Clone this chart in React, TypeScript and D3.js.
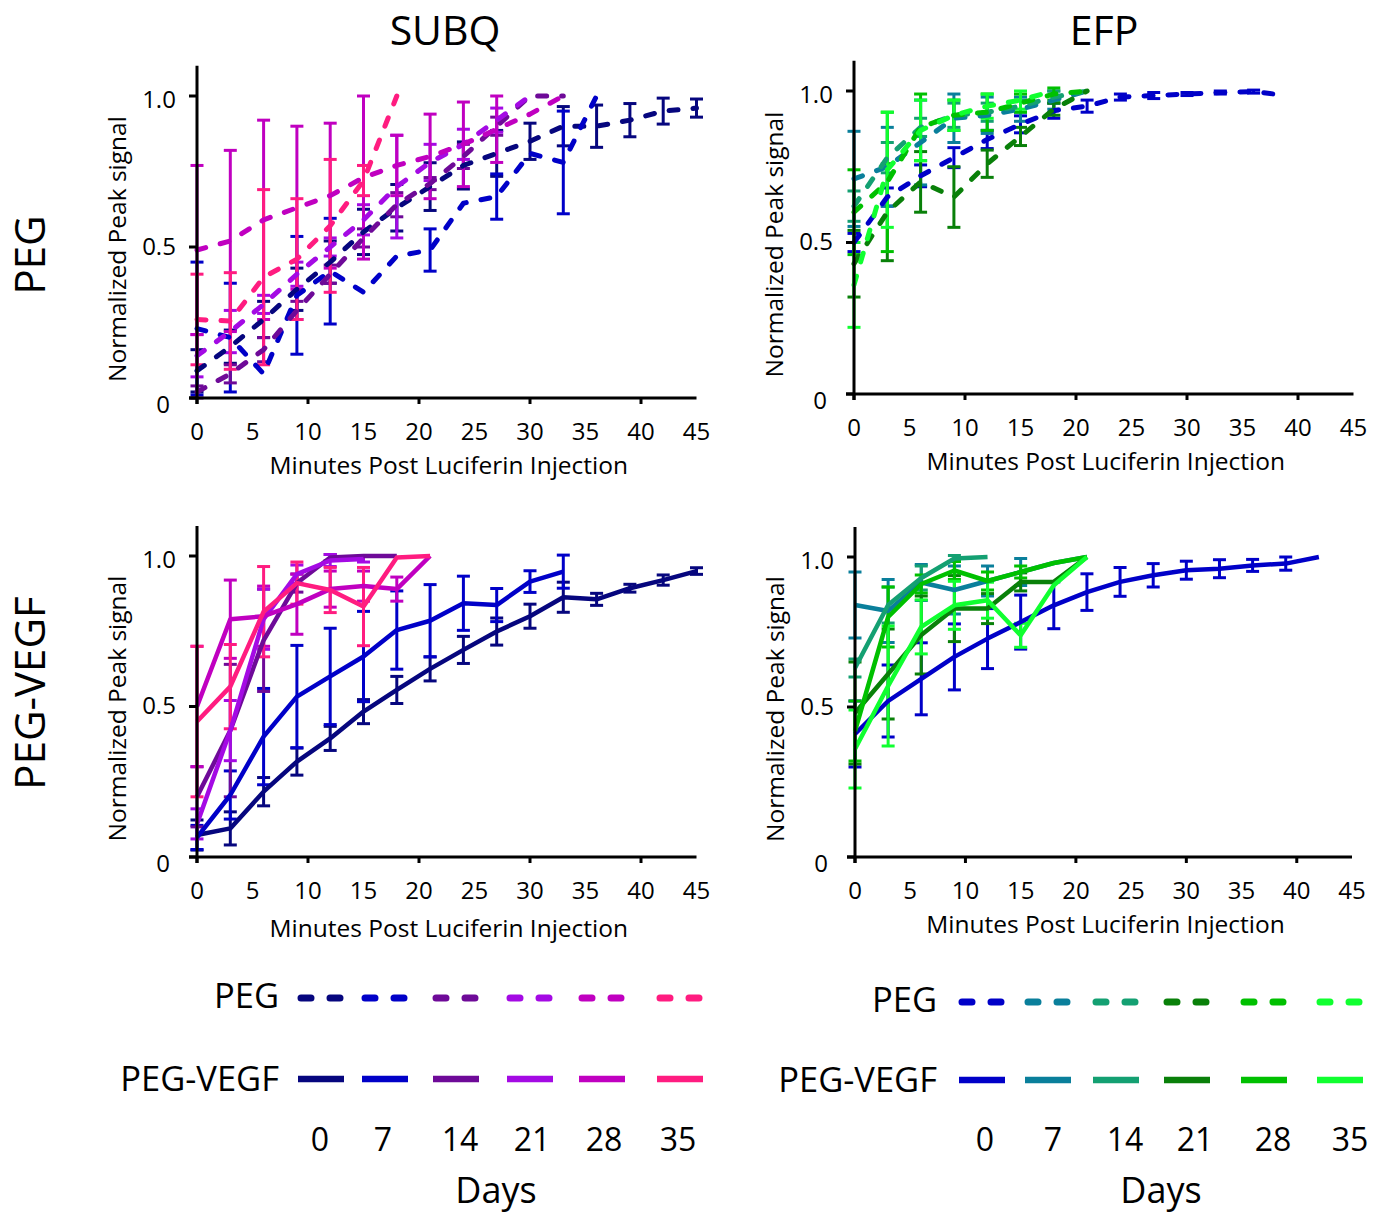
import React from 'react';
import * as d3 from 'd3';

const TIMES = [0, 3, 6, 9, 12, 15, 18, 21, 24, 27, 30, 33, 36, 39, 42, 45];
const DAY_LABELS = ['0', '7', '14', '21', '28', '35'];
const SUBQ_COLORS = ['#06067e', '#0000c8', '#6e0a98', '#a40ae4', '#c000c0', '#ff1c80'];
const EFP_COLORS = ['#0000c8', '#0a7f9b', '#14a072', '#098009', '#00c000', '#10ff30'];
const Y_TICKS = [0, 0.5, 1.0];
const Y_TICK_LABELS = ['0', '0.5', '1.0'];
const X_LABEL_TICKS = [0, 5, 10, 15, 20, 25, 30, 35, 40, 45];
const X_MAJOR_TICKS = [0, 10, 20, 30, 40];

// SUBQ, PEG (dashed)
const subqPegMean = [
  [0.09, 0.17, 0.26, 0.36, 0.45, 0.55, 0.63, 0.70, 0.77, 0.81, 0.85, 0.90, 0.90, 0.92, 0.95, 0.96],
  [0.23, 0.20, 0.08, 0.34, 0.42, 0.35, 0.47, 0.49, 0.645, 0.667, 0.81, 0.78, 1.0],
  [0.02, 0.08, 0.16, 0.29, 0.41, 0.53, 0.64, 0.71, 0.80, 0.90, 1.0, 1.0],
  [0.14, 0.22, 0.31, 0.41, 0.50, 0.59, 0.70, 0.78, 0.84, 0.92, 1.0],
  [0.49, 0.52, 0.59, 0.63, 0.67, 0.73, 0.77, 0.80, 0.84, 0.89, 0.94, 1.0],
  [0.26, 0.255, 0.40, 0.46, 0.57, 0.72, 1.0],
];
const subqPegErr = [
  [0.07, 0.055, 0.06, 0.07, 0.07, 0.075, 0.077, 0.079, 0.078, 0.076, 0.06, 0.065, 0.07, 0.055, 0.043, 0.03],
  [0.22, 0.18, 0, 0.195, 0.175, 0, 0, 0.07, 0, 0.075, 0, 0.17, 0],
  [0.02, 0.03, 0.04, 0.03, 0.03, 0.03, 0.04, 0.02, 0.04, 0.03, 0, 0],
  [0.07, 0.07, 0.03, 0.04, 0.03, 0.05, 0.17, 0.06, 0.05, 0.04, 0],
  [0.28, 0.30, 0.33, 0.27, 0.24, 0.27, 0.1, 0.14, 0.14, 0.11, 0, 0],
  [0.15, 0.16, 0.29, 0.2, 0.22, 0.05, 0],
];

// EFP, PEG (dashed)
const efpPegMean = [
  [0.50, 0.65, 0.72, 0.78, 0.84, 0.89, 0.935, 0.95, 0.98, 0.985, 0.99, 0.995, 0.998, 0.985],
  [0.71, 0.75, 0.83, 0.91, 0.92, 0.94, 0.97, 1.0],
  [0.62, 0.78, 0.88, 0.92, 0.93, 0.95, 0.98, 1.0],
  [0.43, 0.60, 0.70, 0.65, 0.76, 0.85, 0.94, 1.0],
  [0.60, 0.70, 0.88, 0.92, 0.93, 0.96, 0.99, 1.0],
  [0.36, 0.74, 0.87, 0.92, 0.95, 0.97, 1.0],
];
const efpPegErr = [
  [0.03, 0.03, 0.036, 0.033, 0.03, 0.028, 0.025, 0.02, 0.01, 0.01, 0.005, 0.005, 0.005, 0],
  [0.157, 0.13, 0.14, 0.08, 0.06, 0.04, 0.03, 0],
  [0.05, 0.05, 0.03, 0.04, 0.03, 0.02, 0.02, 0],
  [0.11, 0.16, 0.1, 0.1, 0.045, 0.03, 0.02, 0],
  [0.14, 0.23, 0.11, 0.05, 0.06, 0.03, 0.02, 0],
  [0.14, 0.19, 0.1, 0.05, 0.04, 0.03, 0],
];

// SUBQ, PEG-VEGF (solid)
const subqVegfMean = [
  [0.073, 0.095, 0.217, 0.317, 0.394, 0.483, 0.555, 0.625, 0.688, 0.749, 0.80, 0.863, 0.856, 0.893, 0.92, 0.95],
  [0.065, 0.206, 0.40, 0.533, 0.60, 0.666, 0.754, 0.785, 0.843, 0.837, 0.915, 0.948],
  [0.20, 0.42, 0.72, 0.91, 0.995, 1.0, 1.0],
  [0.11, 0.42, 0.79, 0.94, 0.985, 0.99],
  [0.50, 0.79, 0.80, 0.84, 0.89, 0.90, 0.89, 1.0],
  [0.45, 0.566, 0.815, 0.91, 0.887, 0.832, 0.995, 1.0],
];
const subqVegfErr = [
  [0.05, 0.055, 0.047, 0.045, 0.04, 0.04, 0.045, 0.04, 0.045, 0.045, 0.04, 0.05, 0.02, 0.013, 0.017, 0.011],
  [0.04, 0.08, 0.16, 0.17, 0.16, 0.15, 0.13, 0.12, 0.09, 0.055, 0.036, 0.055],
  [0.1, 0.22, 0.17, 0.03, 0.01, 0, 0],
  [0.05, 0.1, 0.1, 0.03, 0.02, 0.01],
  [0.2, 0.13, 0.1, 0.1, 0.06, 0.05, 0.04, 0],
  [0.25, 0.14, 0.15, 0.07, 0.075, 0.13, 0, 0],
];

// EFP, PEG-VEGF (solid)
const efpVegfMean = [
  [0.41, 0.52, 0.594, 0.667, 0.728, 0.783, 0.839, 0.883, 0.917, 0.939, 0.956, 0.961, 0.972, 0.978, 1.0],
  [0.84, 0.82, 0.915, 0.89, 0.92, 0.95, 0.98, 1.0],
  [0.63, 0.84, 0.93, 0.995, 1.0],
  [0.48, 0.61, 0.74, 0.828, 0.828, 0.917, 0.917, 1.0],
  [0.42, 0.80, 0.91, 0.955, 0.92, 0.95, 0.98, 1.0],
  [0.36, 0.57, 0.767, 0.839, 0.856, 0.739, 0.906, 1.0],
];
const efpVegfErr = [
  [0.11, 0.12, 0.12, 0.11, 0.1, 0.09, 0.078, 0.061, 0.048, 0.039, 0.03, 0.03, 0.02, 0.022, 0],
  [0.11, 0.105, 0.06, 0.08, 0.05, 0.045, 0, 0],
  [0.03, 0.06, 0.04, 0.01, 0],
  [0.17, 0.15, 0.13, 0.11, 0.05, 0.03, 0, 0],
  [0.1, 0.1, 0.03, 0.03, 0.03, 0.02, 0, 0],
  [0.13, 0.2, 0.09, 0.08, 0.06, 0.04, 0, 0],
];

// legend layout (segment starts and day-label centres)
const LEFT_SEG_X = [298, 362, 433, 507, 579, 657];
const LEFT_DAY_X = [320, 383, 460, 532, 604, 678];
const RIGHT_SEG_X = [959, 1025, 1093, 1164, 1241, 1317];
const RIGHT_DAY_X = [985, 1053, 1125, 1195, 1273, 1350];

const FONT = "'Open Sans', 'Noto Sans', sans-serif";

type PanelProps = {
  left: number; right: number; bottom: number; top: number; titleOffset: number;
  means: number[][]; errs: number[][]; colors: string[]; dashed: boolean;
};

function Panel({ left, right, bottom, top, titleOffset, means, errs, colors, dashed }: PanelProps) {
  const x = d3.scaleLinear().domain([0, 45]).range([left, right]);
  const y = d3.scaleLinear().domain([0, 1]).range([bottom, top]);
  const line = d3.line<number>().x((_, i) => x(TIMES[i])).y((d) => y(d));
  const cap = 6.5;
  const midY = y(0.5) + 2;
  const yLabelShift: Record<string, number> = { '0': 6.5, '0.5': -0.5, '1': 3.5 };
  return (
    <g>
      {means.map((m, s) => (
        <g key={'e' + s} stroke={colors[s]} strokeWidth={3} fill="none">
          {m.map((v, i) => {
            const e = errs[s][i];
            if (!e) return null;
            const xi = x(TIMES[i]);
            const y1 = y(Math.min(v + e, 1.1));
            const y2 = y(Math.max(v - e, 0));
            return (
              <g key={i}>
                <line x1={xi} x2={xi} y1={y1} y2={y2} />
                <line x1={xi - cap} x2={xi + cap} y1={y1} y2={y1} />
                <line x1={xi - cap} x2={xi + cap} y1={y2} y2={y2} />
              </g>
            );
          })}
        </g>
      ))}
      {means.map((m, s) => (
        <path
          key={'l' + s}
          d={line(m) || ''}
          fill="none"
          stroke={colors[s]}
          strokeWidth={dashed ? 5 : 4.5}
          strokeDasharray={dashed ? '9 15' : undefined}
          strokeLinecap={dashed ? 'round' : 'butt'}
          strokeLinejoin="round"
        />
      ))}
      <g stroke="#000" strokeWidth={3}>
        <line x1={left} x2={left} y1={y(1.1)} y2={bottom + 6} />
        <line x1={left - 8} x2={right} y1={bottom} y2={bottom} />
        {Y_TICKS.map((t) => (
          <line key={'yt' + t} x1={left - 8} x2={left} y1={y(t)} y2={y(t)} />
        ))}
        {X_MAJOR_TICKS.map((t) => (
          <line key={'xt' + t} x1={x(t)} x2={x(t)} y1={bottom} y2={bottom + 6} />
        ))}
      </g>
      <g fontFamily={FONT} fill="#000">
        {Y_TICKS.map((t, i) => (
          <text key={'yl' + t} x={left - (t === 0 ? 34 : 38)} y={y(t) + yLabelShift[String(t)]} dy="0.35em" textAnchor="middle" fontSize={24}>
            {Y_TICK_LABELS[i]}
          </text>
        ))}
        {X_LABEL_TICKS.map((t) => (
          <text key={'xl' + t} x={x(t)} y={bottom + 34} dy="0.35em" textAnchor="middle" fontSize={24}>
            {t}
          </text>
        ))}
        <text x={(left + right) / 2 + 2} y={bottom + titleOffset} dy="0.35em" textAnchor="middle" fontSize={24.5}>
          Minutes Post Luciferin Injection
        </text>
        <text
          transform={`translate(${left - 80},${midY}) rotate(-90)`}
          dy="0.35em"
          textAnchor="middle"
          fontSize={24.5}
        >
          Normalized Peak signal
        </text>
      </g>
    </g>
  );
}

type LegendProps = {
  colors: string[]; segX: number[]; dayX: number[]; textX: number; pegY: number; vegfY: number; daysX: number;
};

function Legend({ colors, segX, dayX, textX, pegY, vegfY, daysX }: LegendProps) {
  const w = 46;
  return (
    <g>
      <g fontFamily={FONT} fill="#000">
        <text x={textX} y={pegY} dy="0.35em" textAnchor="end" fontSize={34.5}>PEG</text>
        <text x={textX} y={vegfY} dy="0.35em" textAnchor="end" fontSize={34.5}>PEG-VEGF</text>
        {DAY_LABELS.map((d, i) => (
          <text key={d} x={dayX[i]} y={1140} dy="0.35em" textAnchor="middle" fontSize={32}>
            {d}
          </text>
        ))}
        <text x={daysX} y={1190} dy="0.35em" textAnchor="middle" fontSize={36}>Days</text>
      </g>
      {DAY_LABELS.map((d, i) => {
        const bx = segX[i];
        return (
          <g key={'lg' + d}>
            <line
              x1={bx + 3} x2={bx + w - 3} y1={pegY + 2} y2={pegY + 2}
              stroke={colors[i]} strokeWidth={7} strokeLinecap="round"
              strokeDasharray={`${w / 2 - 13} 19`}
            />
            <line x1={bx} x2={bx + w} y1={vegfY} y2={vegfY} stroke={colors[i]} strokeWidth={6.5} />
          </g>
        );
      })}
    </g>
  );
}

export default function App() {
  return (
    <svg
      width={1386}
      height={1214}
      style={{ position: 'absolute', left: 0, top: 0, display: 'block', background: '#fff' }}
    >
      <g fontFamily={FONT} fill="#000">
        <text x={445} y={31} dy="0.35em" textAnchor="middle" fontSize={41}>SUBQ</text>
        <text x={1104} y={31} dy="0.35em" textAnchor="middle" fontSize={41}>EFP</text>
        <text transform="translate(30,255) rotate(-90)" dy="0.35em" textAnchor="middle" fontSize={42}>PEG</text>
        <text transform="translate(30,693) rotate(-90)" dy="0.35em" textAnchor="middle" fontSize={42}>PEG-VEGF</text>
      </g>
      <Panel left={197} right={696.5} bottom={398} top={96} titleOffset={67} means={subqPegMean} errs={subqPegErr} colors={SUBQ_COLORS} dashed />
      <Panel left={854} right={1353.5} bottom={394} top={91} titleOffset={67} means={efpPegMean} errs={efpPegErr} colors={EFP_COLORS} dashed />
      <Panel left={197} right={696.5} bottom={857} top={556} titleOffset={71} means={subqVegfMean} errs={subqVegfErr} colors={SUBQ_COLORS} dashed={false} />
      <Panel left={855} right={1352} bottom={857} top={557} titleOffset={67} means={efpVegfMean} errs={efpVegfErr} colors={EFP_COLORS} dashed={false} />
      <Legend colors={SUBQ_COLORS} segX={LEFT_SEG_X} dayX={LEFT_DAY_X} textX={279} pegY={996} vegfY={1079} daysX={496} />
      <Legend colors={EFP_COLORS} segX={RIGHT_SEG_X} dayX={RIGHT_DAY_X} textX={937} pegY={1000} vegfY={1080} daysX={1161} />
    </svg>
  );
}
